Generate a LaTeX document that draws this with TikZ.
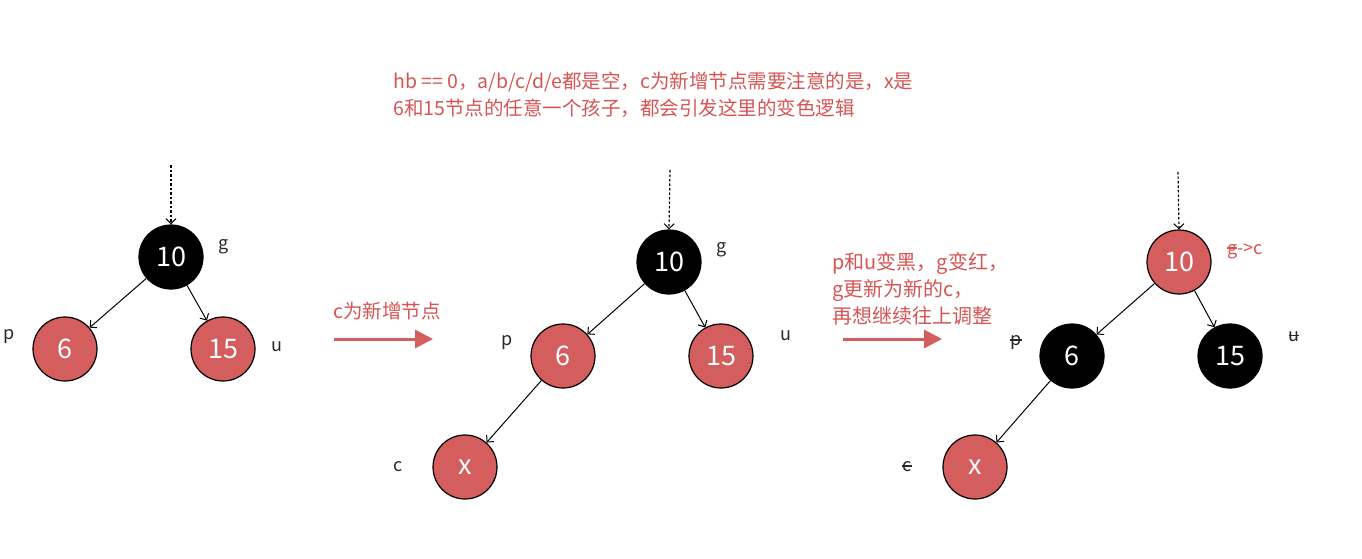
\documentclass[tikz,border=0pt]{standalone}
\usepackage{fontspec}
\setmainfont{Noto Sans CJK SC}
\usetikzlibrary{arrows.meta}
\definecolor{rbred}{RGB}{212,93,93}
\definecolor{txtred}{RGB}{214,84,84}
\definecolor{lbl}{RGB}{40,40,40}
\newsavebox\strkbox
\newcommand\strk[1]{\sbox\strkbox{#1}\rlap{\usebox\strkbox}\rule[0.3em]{\wd\strkbox}{0.07em}}
\tikzset{
  rbnode/.style={circle, draw=black, line width=1.2pt, minimum size=64pt, inner sep=0pt, text=white, font=\fontsize{27}{27}\selectfont},
  blk/.style={rbnode, fill=black},
  rd/.style={rbnode, fill=rbred},
  lab/.style={text=lbl, font=\fontsize{18}{18}\selectfont, inner sep=0pt},
  note/.style={text=txtred, font=\fontsize{19.5}{27}\selectfont, inner sep=0pt, align=left},
  edge/.style={line width=1pt, -{Straight Barb[length=5pt,width=10pt,line width=1pt]}},
  dotarrow/.style={line width=1.2pt, dash pattern=on 2.5pt off 2pt, -{Straight Barb[length=5pt,width=10pt,line width=1pt]}},
  bigarrow/.style={draw=rbred, line width=3pt, -{Triangle[length=18pt,width=18pt]}},
}
\begin{document}
\begin{tikzpicture}[x=1pt,y=-1pt]
\useasboundingbox (0,0) rectangle (1362,559);
% top note
\node[note, anchor=west] (topnote) at (393,94.5) {hb == 0，a/b/c/d/e都是空，c为新增节点需要注意的是，x是\\6和15节点的任意一个孩子，都会引发这里的变色逻辑};

% tree 1
\coordinate (t1) at (171,165);
\node[blk] (a10) at (171,257) {10};
\node[rd] (a6) at (65,349) {6};
\node[rd] (a15) at (223,349) {15};
\node[lab] (ag) at (224,247) {g};
\node[lab] (ap) at (9,337) {p};
\node[lab] (au) at (277,347) {u};
\draw[dotarrow] (t1) -- (a10.north);
\draw[edge] (a10) -- (a6);
\draw[edge] (a10) -- (a15);

% arrow 1
\coordinate (r1s) at (334,339);
\coordinate (r1e) at (433,339);
\draw[bigarrow] (r1s) -- (r1e);
\node[note, anchor=west] (n1) at (333,311) {c为新增节点};

% tree 2
\coordinate (t2) at (670,170);
\node[blk] (b10) at (669,262) {10};
\node[rd] (b6) at (563,356) {6};
\node[rd] (b15) at (721,356) {15};
\node[rd] (bx) at (465,467) {x};
\node[lab] (bg) at (722,250) {g};
\node[lab] (bp) at (507,343) {p};
\node[lab] (bu) at (786,336) {u};
\node[lab] (bc) at (398,467) {c};
\draw[dotarrow] (t2) -- (b10.north);
\draw[edge] (b10) -- (b6);
\draw[edge] (b10) -- (b15);
\draw[edge] (b6) -- (bx);

% arrow 2
\coordinate (r2s) at (843,339);
\coordinate (r2e) at (942,339);
\draw[bigarrow] (r2s) -- (r2e);
\node[note, anchor=west, font=\fontsize{20}{27}\selectfont] (n2) at (832,289) {p和u变黑，g变红，\\g更新为新的c，\\再想继续往上调整};

% tree 3
\coordinate (t3) at (1178,172);
\node[rd] (c10) at (1179,262) {10};
\node[blk] (c6) at (1072,356) {6};
\node[blk] (c15) at (1230,356) {15};
\node[rd] (cx) at (975,467) {x};
\node[lab, text=txtred, anchor=west] (cg) at (1227,251) {\strk{g}->c};
\node[lab] (cp) at (1016,343) {\strk{p}};
\node[lab] (cu) at (1294,337) {\strk{u}};
\node[lab] (cc) at (907,467) {\strk{c}};
\draw[dotarrow] (t3) -- (c10.north);
\draw[edge] (c10) -- (c6);
\draw[edge] (c10) -- (c15);
\draw[edge] (c6) -- (cx);
\end{tikzpicture}
\end{document}
